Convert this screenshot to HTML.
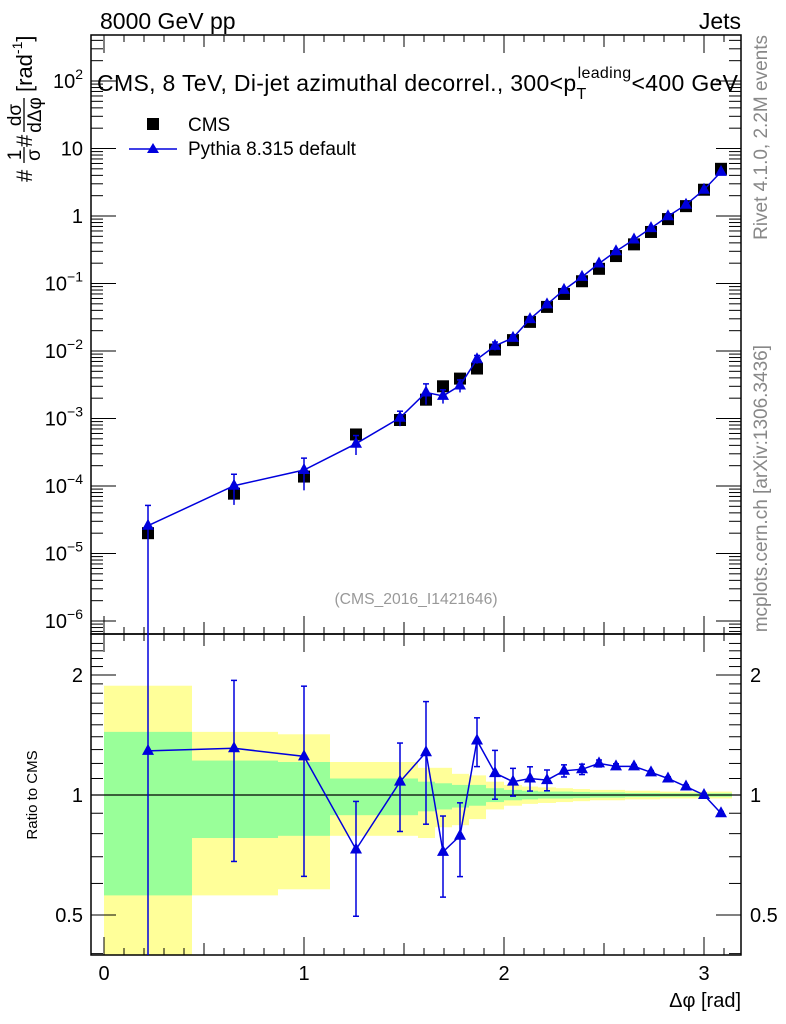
<!DOCTYPE html>
<html><head><meta charset="utf-8"><style>
body{margin:0;background:#fff;}
svg{display:block;font-family:"Liberation Sans",sans-serif;}
</style></head><body>
<svg id="c" width="786" height="1024" viewBox="0 0 786 1024" xmlns="http://www.w3.org/2000/svg">
<g id="bands"></g>
<g id="grid"></g>
<g id="marks"></g>
<text x="100" y="29" font-size="23">8000 GeV pp</text>
<text x="741" y="29" font-size="23" text-anchor="end">Jets</text>
<text x="97" y="91" font-size="23" textLength="641">CMS, 8 TeV, Di-jet azimuthal decorrel., 300&lt;p<tspan font-size="16" dy="8">T</tspan><tspan font-size="16" dy="-21" dx="-9">leading</tspan><tspan dy="13">&lt;400 GeV</tspan></text>
<g>
<rect x="147" y="118" width="12" height="12" fill="#000"/>
<text x="188" y="131" font-size="19">CMS</text>
<line x1="129" y1="149" x2="177" y2="149" stroke="#0000dd" stroke-width="1.5"/>
<path d="M153,143 L159,153 L147,153 Z" fill="#0000dd"/>
<text x="188" y="155" font-size="19">Pythia 8.315 default</text>
</g>
<text x="416" y="604" font-size="15.7" fill="#999" text-anchor="middle">(CMS_2016_I1421646)</text>
<text transform="translate(767,35) rotate(-90)" font-size="19" fill="#888" text-anchor="end">Rivet 4.1.0,  2.2M events</text>
<text transform="translate(767,345) rotate(-90)" font-size="19" fill="#888" text-anchor="end">mcplots.cern.ch [arXiv:1306.3436]</text>
<g transform="translate(32,182) rotate(-90)">
<text x="0" y="0" font-size="22">#</text>
<text x="27" y="-11" font-size="19" text-anchor="middle">1</text>
<line x1="19" y1="-8" x2="35" y2="-8" stroke="#000" stroke-width="1.3"/>
<text x="27" y="8" font-size="19" text-anchor="middle">σ</text>
<text x="35" y="0" font-size="22">#</text>
<text x="67" y="-11" font-size="19" text-anchor="middle">dσ</text>
<line x1="50" y1="-8" x2="84" y2="-8" stroke="#000" stroke-width="1.3"/>
<text x="67" y="9" font-size="19" text-anchor="middle">dΔφ</text>
<text x="90" y="0" font-size="22">[rad<tspan font-size="14" dy="-10">-1</tspan><tspan dy="10">]</tspan></text>
</g>
<text transform="translate(37,795) rotate(-90)" font-size="15" text-anchor="middle">Ratio to CMS</text>
<text x="741" y="1007" font-size="20" text-anchor="end">Δφ [rad]</text>
</svg>
<script>
const xVals=[0.22,0.65,1.0,1.26,1.48,1.61,1.695,1.78,1.865,1.955,2.045,2.13,2.215,2.30,2.39,2.475,2.56,2.65,2.735,2.82,2.91,3.0,3.085];
const binEdges=[0,0.44,0.87,1.13,1.39,1.57,1.655,1.74,1.825,1.91,2.0,2.09,2.17,2.26,2.345,2.43,2.52,2.605,2.69,2.78,2.865,2.955,3.04,3.14];
const cmsValues=[2.0e-5,7.7e-5,1.38e-4,5.8e-4,9.5e-4,1.9e-3,3.0e-3,3.9e-3,5.5e-3,1.05e-2,1.45e-2,2.7e-2,4.5e-2,7.0e-2,0.108,0.165,0.255,0.38,0.58,0.9,1.4,2.45,5.0];
const ratioValues=[1.29,1.31,1.25,0.73,1.08,1.28,0.72,0.79,1.37,1.135,1.08,1.10,1.09,1.15,1.16,1.20,1.18,1.18,1.14,1.10,1.05,1.0,0.90];
const mcRelErr=[1.0,0.48,0.5,0.32,0.25,0.34,0.23,0.21,0.14,0.14,0.08,0.07,0.06,0.035,0.03,0.02,0.015,0.01,0.01,0.01,0.01,0.01,0.01];
const yellowHi=[1.88,1.44,1.42,1.21,1.21,1.17,1.17,1.13,1.12,1.08,1.06,1.05,1.045,1.04,1.035,1.03,1.03,1.025,1.025,1.02,1.02,1.02,1.02];
const greenHi=[1.44,1.22,1.21,1.10,1.10,1.08,1.07,1.06,1.06,1.04,1.03,1.025,1.02,1.02,1.018,1.015,1.015,1.012,1.012,1.01,1.01,1.01,1.01];
const greenLo=[0.56,0.78,0.79,0.89,0.89,0.91,0.92,0.93,0.94,0.96,0.97,0.975,0.98,0.98,0.982,0.985,0.985,0.988,0.988,0.99,0.99,0.99,0.99];
const yellowLo=[0.3,0.56,0.58,0.79,0.79,0.78,0.83,0.84,0.87,0.92,0.94,0.95,0.955,0.96,0.965,0.97,0.97,0.975,0.975,0.98,0.98,0.98,0.98];
const mainTicks=[2,1,0,-1,-2,-3,-4,-5,-6];
const ratioTicks=[2,1,0.5];
const xTicks=[0,1,2,3];

const NS="http://www.w3.org/2000/svg";
const L=91,R=741,MT=35,MB=634,RT=634,RB=955;
const X=v=>104+v*200;
const Y=v=>216-Math.log10(v)*67.5;
const YR=v=>795-Math.log2(v)*120;
function mk(p,t,a){const e=document.createElementNS(NS,t);for(const k in a)e.setAttribute(k,a[k]);p.appendChild(e);return e;}
const g=document.getElementById('grid'),b=document.getElementById('bands'),m=document.getElementById('marks');

for(let i=0;i<xVals.length;i++){
  const x1=X(binEdges[i]),x2=X(binEdges[i+1]);
  const yh=Math.max(RT,YR(yellowHi[i])),yl=Math.min(RB,YR(yellowLo[i]));
  const r1=mk(b,'rect',{x:x1,y:yh,width:x2-x1,height:yl-yh,fill:'#ffff99'});
  
  
  const gh=YR(greenHi[i]),gl=YR(greenLo[i]);
  const r2=mk(b,'rect',{x:x1,y:gh,width:x2-x1,height:gl-gh,fill:'#99ff99'});
  
  
}
mk(g,'rect',{x:L,y:MT,width:R-L,height:MB-MT,fill:'none',stroke:'#000','stroke-width':1.5});
mk(g,'rect',{x:L,y:RT,width:R-L,height:RB-RT,fill:'none',stroke:'#000','stroke-width':1.5});
for(let k=0;k<=31;k++){
  const v=k*0.1,x=X(v);if(x>R)break;
  const len=(k%10==0)?18:(k%5==0?12:7);
  [[MB,-1],[MT,1],[RB,-1],[RT,1]].forEach(([y,d])=>mk(g,'line',{x1:x,y1:y,x2:x,y2:y+d*len,stroke:'#000','stroke-width':1}));
}
xTicks.forEach(v=>{const t=mk(g,'text',{x:X(v),y:980,'font-size':20,'text-anchor':'middle'});t.textContent=v;

});
for(let d=-7;d<=2;d++){for(let k=1;k<10;k++){const v=k*Math.pow(10,d),y=Y(v);if(y<MT||y>MB)continue;
const len=k==1?25:12;
mk(g,'line',{x1:L,y1:y,x2:L+len,y2:y,stroke:'#000'});mk(g,'line',{x1:R,y1:y,x2:R-len,y2:y,stroke:'#000'});}}
mainTicks.forEach(p=>{const y=Y(Math.pow(10,p));const t=mk(g,'text',{x:83,y:y+7,'font-size':20,'text-anchor':'end'});
if(p==0)t.textContent='1';else if(p==1)t.textContent='10';else{t.textContent='10';const s=mk(t,'tspan',{'font-size':14,dy:-9});s.textContent=(p<0?'−':'')+Math.abs(p);}

});
[0.4,0.5,0.6,0.7,0.8,0.9,1,1.1,1.2,1.3,1.4,1.5,1.6,1.7,1.8,1.9,2,2.1,2.2,2.3,2.4].forEach(v=>{const y=YR(v);if(y<RT||y>RB)return;
const len=(v==0.5||v==1||v==2)?25:12;
mk(g,'line',{x1:L,y1:y,x2:L+len,y2:y,stroke:'#000'});mk(g,'line',{x1:R,y1:y,x2:R-len,y2:y,stroke:'#000'});});
ratioTicks.forEach(v=>{const y=YR(v)+7;
const t=mk(g,'text',{x:83,y:y,'font-size':20,'text-anchor':'end'});t.textContent=v;


const t2=mk(g,'text',{x:750,y:y,'font-size':20});t2.textContent=v;

});
mk(g,'line',{x1:L,y1:YR(1),x2:R,y2:YR(1),stroke:'#000','stroke-width':1.2});

const clipM=mk(document.getElementById('c'),'clipPath',{id:'cm'});mk(clipM,'rect',{x:L,y:MT,width:R-L,height:MB-MT});
const clipR=mk(document.getElementById('c'),'clipPath',{id:'cr'});mk(clipR,'rect',{x:L,y:RT,width:R-L,height:RB-RT});
const gm=mk(m,'g',{'clip-path':'url(#cm)'}),gr=mk(m,'g',{'clip-path':'url(#cr)'});
const tri=(p,x,y)=>mk(p,'path',{d:`M${x},${y-7} L${x+6},${y+4} L${x-6},${y+4} Z`,fill:'#0000dd'});
const mcVals=cmsValues.map((c,i)=>c*ratioValues[i]);
cmsValues.forEach((c,i)=>{const s=mk(gm,'rect',{x:X(xVals[i])-6,y:Y(c)-6,width:12,height:12,fill:'#000'});

});
mk(gm,'polyline',{points:xVals.map((x,i)=>X(x)+','+Y(mcVals[i])).join(' '),fill:'none',stroke:'#0000dd','stroke-width':1.5});
mcVals.forEach((v,i)=>{const x=X(xVals[i]);const hi=Y(v*(1+mcRelErr[i])),lo=v*(1-mcRelErr[i])>0?Y(v*(1-mcRelErr[i])):MB+10;
mk(gm,'line',{x1:x,y1:hi,x2:x,y2:lo,stroke:'#0000dd','stroke-width':1.5});
mk(gm,'line',{x1:x-3,y1:hi,x2:x+3,y2:hi,stroke:'#0000dd','stroke-width':1.5});
const t=tri(gm,x,Y(v));

});
mk(gr,'polyline',{points:xVals.map((x,i)=>X(x)+','+YR(ratioValues[i])).join(' '),fill:'none',stroke:'#0000dd','stroke-width':1.5});
ratioValues.forEach((v,i)=>{const x=X(xVals[i]);const e=v*mcRelErr[i];const hi=YR(v+e),lo=(v-e)>0?YR(v-e):RB+10;
mk(gr,'line',{x1:x,y1:hi,x2:x,y2:lo,stroke:'#0000dd','stroke-width':1.5});
mk(gr,'line',{x1:x-3,y1:hi,x2:x+3,y2:hi,stroke:'#0000dd','stroke-width':1.5});
mk(gr,'line',{x1:x-3,y1:lo,x2:x+3,y2:lo,stroke:'#0000dd','stroke-width':1.5});
const t=tri(gr,x,YR(v));

});
</script>
</body></html>
